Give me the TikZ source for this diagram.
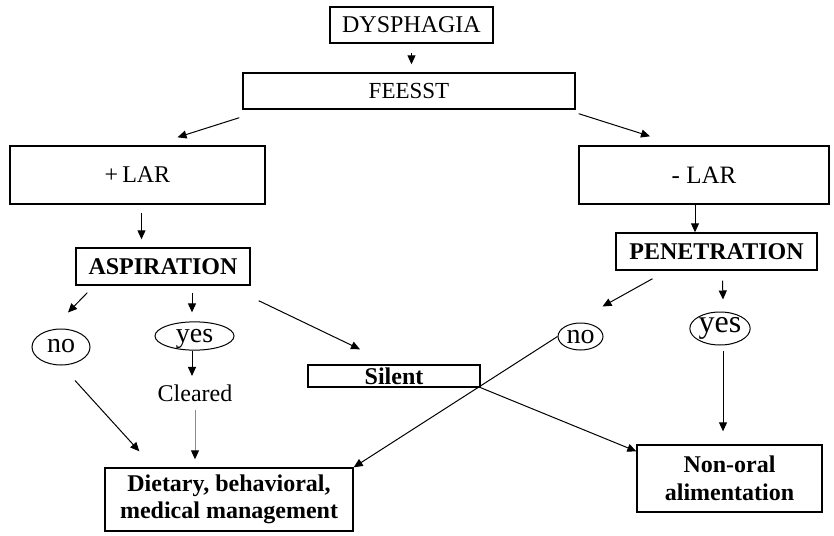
\documentclass[tikz,border=0pt]{standalone}
\usepackage{fontspec}
\setmainfont{Liberation Serif}
\usetikzlibrary{arrows.meta, positioning, shapes.geometric}

\begin{document}
\begin{tikzpicture}[x=0.5pt, y=-0.5pt,
    box/.style={draw, line width=0.7pt, inner sep=0pt, align=center,
                font=\fontsize{12}{14}\selectfont},
    boldbox/.style={box, font=\fontsize{12}{13.5}\selectfont\bfseries},
    oval/.style={draw, ellipse, line width=0.5pt, inner sep=0pt,
                 font=\fontsize{14}{16}\selectfont},
    arr/.style={-{Triangle[length=4.5pt, width=4pt]}, line width=0.5pt}]
    \useasboundingbox (0,0) rectangle (834,535);

    % Top of the chart
    \node[box, minimum width=81.5pt, minimum height=18pt] (dys) at (411.5,25) {DYSPHAGIA};
    \node[box, font=\fontsize{11.5}{13}\selectfont,
          minimum width=166pt, minimum height=18pt] (feesst) at (409,91) {FEESST};

    % LAR boxes
    \node[box, minimum width=127.5pt, minimum height=29pt] (plar) at (137.5,175) {+\,LAR};
    \node[box, font=\fontsize{12.5}{14}\selectfont,
          minimum width=125pt, minimum height=29pt] (mlar) at (704,175) {- LAR};

    % Findings
    \node[boldbox, minimum width=87pt, minimum height=18.5pt] (asp) at (163,266.5) {ASPIRATION};
    \node[boldbox, minimum width=100.5pt, minimum height=18.5pt] (pen) at (716.5,251.5) {PENETRATION};

    % Answers
    \node[oval, text height=7pt, text depth=2pt,
          minimum width=29pt, minimum height=18pt] (no1) at (61,347) {no};
    \node[oval, text height=8pt, text depth=2pt,
          minimum width=39.5pt, minimum height=14pt] (yes1) at (194.5,336) {yes};
    \node[font=\fontsize{12}{14}\selectfont, inner xsep=0pt, inner ysep=4pt,
          anchor=base] (cleared) at (195,401) {Cleared};
    \node[boldbox, minimum width=86pt, text height=8pt, text depth=0pt,
          inner ysep=1.5pt] (silent) at (394,376) {Silent};
    \node[oval, text height=8pt, text depth=1.5pt,
          minimum width=22.5pt, minimum height=13.5pt] (no2) at (580.5,336.5) {no};
    \node[oval, font=\fontsize{16}{18}\selectfont, text height=6pt, text depth=2.5pt,
          minimum width=25pt, minimum height=16.5pt] (yes2) at (720,328.5) {yes};

    % Outcomes
    \node[boldbox, minimum width=124pt, minimum height=31.5pt] (diet) at (229,499.5)
        {Dietary, behavioral,\\medical management};
    \node[boldbox, font=\fontsize{12}{14}\selectfont\bfseries,
          minimum width=92.5pt, minimum height=33.5pt] (nonoral) at (729.5,478.5)
        {Non-oral\\alimentation};

    % Arrows
    \draw[arr] ([yshift=-4.5pt]dys.south) -- ([yshift=4pt]dys.south |- feesst.north);
    \draw[arr] ([xshift=-1.5pt,yshift=-4pt]feesst.south west) -- ([xshift=20pt,yshift=4pt]plar.north);
    \draw[arr] ([xshift=1.5pt,yshift=-2pt]feesst.south east) -- ([xshift=-27pt,yshift=4.5pt]mlar.north);
    \draw[arr] ([xshift=2pt,yshift=-4pt]plar.south) -- ([xshift=2pt,yshift=4pt]plar.south |- asp.north);
    \draw[arr] ([xshift=-4.5pt]mlar.south) -- ([xshift=-4.5pt]mlar.south |- pen.north);

    \draw[arr] ([xshift=6pt,yshift=-3.5pt]asp.south west) -- ([xshift=3.5pt,yshift=8pt]no1.north);
    \draw[arr] ([xshift=14.5pt,yshift=-3.5pt]asp.south) -- ([xshift=-1.25pt,yshift=4.5pt]yes1.north);
    \draw[arr] ([xshift=4pt,yshift=-7.5pt]asp.south east) -- ([xshift=-17pt,yshift=7.5pt]silent.north);
    \draw[arr] ([xshift=-1.25pt]yes1.south) -- ([xshift=-1.25pt]yes1.south |- cleared.north);
    \draw[arr, draw=black!45, -{Triangle[length=4.5pt, width=4pt, color=black]}]
        (cleared.south) -- ([yshift=4pt]cleared.south |- diet.north);
    \draw[arr] ([xshift=7pt,yshift=-7.5pt]no1.south) -- ([xshift=17.5pt,yshift=8pt]diet.north west);

    \draw[arr] (silent.south east) -- ([yshift=-3.5pt]nonoral.north west);
    \draw[arr] (no2.west) -- (diet.north east);
    \draw[arr] ([xshift=-32pt,yshift=-4pt]pen.south) -- ([xshift=11pt,yshift=8pt]no2.north);
    \draw[arr] ([xshift=3pt,yshift=-5pt]pen.south) -- ([xshift=1.5pt,yshift=6pt]yes2.north);
    \draw[arr] ([xshift=1.5pt,yshift=-2.5pt]yes2.south) -- ([xshift=1.5pt,yshift=6.5pt]yes2.south |- nonoral.north);

\end{tikzpicture}
\end{document}
